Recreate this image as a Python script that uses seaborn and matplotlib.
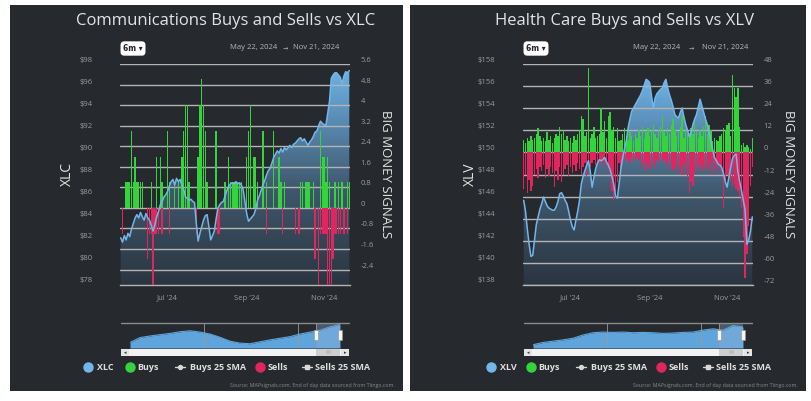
import numpy as np
import matplotlib
matplotlib.use("Agg")
import matplotlib.pyplot as plt
import seaborn as sns
from matplotlib.colors import LinearSegmentedColormap
from matplotlib.patches import Rectangle
from matplotlib.lines import Line2D

W, H = 812, 401

# ---------------- data ----------------
date_start = "May 22, 2024"
date_end = "Nov 21, 2024"
date_tick_idx = [26, 70, 113]            # trading-day index of Jul 1, Sep 3, Nov 1
date_tick_labels = ["Jul '24", "Sep '24", "Nov '24"]

xlc_price = [
    82.2, 81.8, 82.4, 82.0, 82.6, 82.3, 83.0, 83.5, 84.0, 84.3,
    84.0, 84.5, 84.1, 83.8, 84.4, 84.0, 83.8, 83.3, 82.8, 83.4,
    84.1, 84.6, 85.2, 85.5, 85.9, 86.1, 86.4, 86.9, 87.3, 87.5,
    87.0, 87.6, 87.3, 87.5, 87.0, 86.6, 85.9, 85.8, 85.6, 85.7,
    85.5, 85.4, 83.5, 81.9, 82.6, 83.2, 83.8, 84.2, 84.3, 83.2,
    82.0, 82.4, 82.8, 83.9, 84.9, 85.2, 85.4, 85.5, 86.0, 86.5,
    86.9, 87.1, 87.2, 87.1, 87.3, 87.1, 87.2, 87.0, 86.6, 85.5,
    84.4, 83.7, 83.9, 84.1, 84.3, 84.8, 85.6, 86.0, 86.5, 87.0,
    87.4, 87.9, 88.3, 88.5, 89.0, 89.5, 89.8, 90.1, 89.9, 90.3,
    90.0, 90.4, 90.2, 90.4, 90.6, 90.4, 90.7, 90.8, 91.0, 91.2,
    91.3, 91.0, 91.2, 90.9, 90.6, 90.9, 91.1, 91.4, 91.8, 91.9,
    92.4, 92.8, 92.6, 92.5, 92.4, 93.5, 94.6, 96.7, 97.0, 97.2,
    97.2, 97.0, 96.8, 96.2, 96.9, 97.3, 97.2, 97.4,
]
xlc_buys = [
    0, 0, 0, 1, 1, 1, 3, 1, 2, 1, 1, 1, 1, 0, 0, 0,
    0, 1, 0, 0, 2, 0, 2, 1, 0, 0, 3, 1, 0, 0, 1, 0,
    1, 0, 2, 3, 4, 4, 1, 0, 0, 0, 0, 2, 4, 5, 4, 3,
    1, 0, 0, 0, 0, 3, 0, 0, 0, 0, 1, 0, 2, 1, 1, 1,
    1, 1, 1, 1, 0, 0, 2, 3, 4, 0, 2, 2, 1, 0, 0, 3,
    0, 1, 0, 0, 0, 3, 0, 0, 2, 1, 0, 1, 0, 0, 0, 0,
    0, 0, 0, 0, 1, 1, 0, 1, 1, 1, 0, 1, 0, 0, 0, 3,
    2, 2, 1, 2, 1, 0, 0, 1, 0, 1, 0, 1, 0, 0, 1, 1,
]
xlc_sells = [
    0, -1, 0, 0, 0, 0, 0, 0, 0, 0, 0, 0, 0, 0, 0, -2,
    -1, -1, -3, -1, -1, -1, 0, -1, 0, 0, 0, -1, 0, 0, 0, 0,
    0, 0, 0, 0, 0, 0, 0, 0, 0, 0, -1, 0, 0, 0, 0, 0,
    0, 0, 0, 0, 0, 0, -1, -1, 0, 0, 0, 0, 0, 0, 0, 0,
    0, 0, 0, 0, 0, 0, 0, 0, 0, 0, 0, 0, 0, 0, 0, 0,
    0, -1, 0, 0, 0, 0, 0, 0, 0, 0, -1, 0, 0, 0, 0, 0,
    0, -1, 0, -1, 0, 0, 0, 0, 0, 0, 0, 0, -2, 0, -3, -1,
    -1, -1, -1, -3, -3, -3, -2, -1, -1, -1, -1, 0, -1, 0, -1, 0,
]

xlv_price = [
    145.6, 144.6, 143.0, 141.6, 140.5, 140.6, 142.0, 143.4, 144.1, 144.8,
    145.3, 145.9, 145.5, 145.1, 144.9, 144.8, 144.7, 144.7, 145.0, 145.5,
    146.2, 146.3, 146.0, 145.6, 145.3, 144.6, 143.8, 143.2, 142.9, 143.8,
    144.6, 145.6, 147.1, 147.8, 148.3, 148.8, 149.2, 148.2, 146.8, 147.7,
    148.5, 149.0, 149.3, 149.2, 149.3, 149.5, 149.1, 148.8, 148.4, 147.8,
    147.1, 146.0, 145.8, 147.1, 148.5, 149.5, 150.3, 151.0, 152.2, 153.0,
    153.7, 154.0, 154.3, 154.6, 154.9, 155.2, 155.6, 156.1, 156.6, 156.5,
    156.3, 155.1, 154.0, 154.9, 155.3, 155.5, 155.7, 155.8, 156.3, 156.6,
    155.8, 155.2, 154.7, 154.1, 153.4, 153.2, 153.1, 153.6, 154.0, 153.2,
    152.5, 152.0, 151.4, 151.8, 152.5, 153.0, 153.4, 154.1, 154.8, 154.2,
    153.6, 153.0, 152.5, 151.7, 151.0, 150.2, 149.5, 149.2, 148.9, 148.8,
    148.6, 148.0, 147.3, 146.8, 147.7, 148.6, 149.4, 149.7, 149.8, 148.2,
    147.3, 146.5, 145.6, 144.7, 141.6, 142.0, 142.8, 144.1,
]
xlv_buys = [
    7, 5, 8, 6, 9, 7, 8, 10, 13, 9, 6, 8, 6, 11, 7, 9,
    5, 8, 10, 9, 14, 10, 12, 7, 9, 6, 8, 5, 9, 7, 10, 12,
    20, 18, 9, 11, 46, 8, 10, 14, 8, 9, 10, 24, 11, 17, 8, 20,
    22, 12, 14, 8, 13, 6, 7, 10, 13, 9, 7, 11, 9, 6, 10, 8,
    12, 9, 14, 8, 11, 13, 9, 12, 15, 10, 8, 12, 14, 20, 11, 9,
    13, 10, 15, 18, 12, 9, 11, 14, 20, 8, 12, 10, 9, 13, 10, 17,
    11, 8, 12, 9, 14, 20, 10, 15, 12, 6, 8, 7, 6, 9, 10, 13,
    12, 15, 16, 9, 42, 35, 30, 35, 14, 4, 5, 3, 4, 3, 2, 8,
]
xlv_sells = [
    -20, -12, -22, -15, -21, -18, -12, -9, -14, -8, -10, -7, -14, -9, -13, -8,
    -11, -19, -10, -15, -8, -16, -12, -9, -7, -13, -8, -11, -7, -10, -6, -9,
    -12, -8, -6, -13, -5, -8, -6, -4, -7, -5, -7, -4, -6, -8, -6, -9,
    -11, -21, -26, -25, -16, -6, -9, -4, -5, -3, -4, -6, -3, -5, -4, -3,
    -4, -8, -7, -10, -6, -9, -7, -9, -5, -8, -4, -6, -3, -5, -4, -6,
    -9, -5, -8, -10, -9, -7, -11, -8, -12, -6, -9, -13, -22, -16, -18, -11,
    -9, -6, -8, -10, -7, -9, -8, -10, -6, -12, -9, -11, -7, -8, -10, -30,
    -15, -12, -14, -16, -18, -17, -20, -21, -24, -30, -46, -68, -55, -40, -18, -8,
]

# long-history navigator series (coarse readings)
xlc_nav = [48.5, 61.5, 65.8, 69.3, 72.7, 77.1, 79.7, 76.2, 71.0, 62.3, 51.9,
           46.7, 45.0, 50.2, 55.4, 59.7, 64.1, 71.0, 76.2, 81.4, 90.1, 97.0]
xlv_nav = [80.0, 89.0, 94.2, 99.3, 105.8, 118.7, 127.7, 130.3, 129.0, 130.3, 127.7,
           129.0, 127.7, 125.1, 126.4, 129.0, 130.3, 138.0, 143.2, 138.0, 156.0, 150.9]

xlc_price_ticks = [78, 80, 82, 84, 86, 88, 90, 92, 94, 96, 98]
xlc_signal_ticks = [-2.4, -1.6, -0.8, 0, 0.8, 1.6, 2.4, 3.2, 4.0, 4.8, 5.6]
xlc_signal_labels = ["-2.4", "-1.6", "-0.8", "0", "0.8", "1.6", "2.4", "3.2", "4", "4.8", "5.6"]
xlv_price_ticks = [138, 140, 142, 144, 146, 148, 150, 152, 154, 156, 158]
xlv_signal_ticks = [-72, -60, -48, -36, -24, -12, 0, 12, 24, 36, 48]
xlv_signal_labels = [str(v) for v in xlv_signal_ticks]

legend_labels = ["Buys", "Buys 25 SMA", "Sells", "Sells 25 SMA"]
source_note = "Source: MAPsignals.com. End of day data sourced from Tiingo.com."

# ---------------- styling ----------------
BG = "#26292d"
PRICE_BLUE = "#74b6ea"
NAV_BLUE = "#5fa4da"
BUY_GREEN = "#35d43c"
SELL_PINK = "#e1265f"
GRID = "#b4b4b4"
TEXT = "#e4e4e4"
MUTED = "#9c9c9c"
AREA_CMAP = LinearSegmentedColormap.from_list(
    "area", [(0.0, "#2b3540"), (0.45, "#3f586d"), (1.0, "#6db2e6")])


def px_rect(x0, y0, x1, y1):
    return [x0 / W, 1 - y1 / H, (x1 - x0) / W, (y1 - y0) / H]


def ftext(fig, x, y, s, **kw):
    return fig.text(x / W, 1 - y / H, s, **kw)


def fline(fig, xs, ys, **kw):
    fig.add_artist(Line2D([x / W for x in xs], [1 - y / H for y in ys],
                          transform=fig.transFigure, **kw))


def frect(fig, x0, y0, x1, y1, **kw):
    fig.add_artist(Rectangle((x0 / W, 1 - y1 / H), (x1 - x0) / W, (y1 - y0) / H,
                             transform=fig.transFigure, **kw))


def draw_panel(fig, ox, card, title, title_x, ticker, price, buys, sells, nav,
               price_ticks, sig_ticks, sig_labels, sig_ylim, nav_ylim, dates_x,
               leg_dx, bar_w):
    frect(fig, card[0], 5, card[1], 391, facecolor=BG, edgecolor="none", zorder=-5)

    n = len(price)
    idx = np.arange(n)
    x_lo, x_hi = -0.4, n - 0.6
    p_lo = price_ticks[0] - (price_ticks[1] - price_ticks[0]) * 0.05
    p_hi = price_ticks[-1]
    rect = px_rect(120 + ox, 64, 350 + ox, 285)

    # price area with vertical gradient
    ax = fig.add_axes(rect)
    ax.set_facecolor("none")
    poly = ax.fill_between(idx, price, p_lo, facecolor="none", edgecolor="none")
    grad = np.linspace(0, 1, 256).reshape(-1, 1)
    im = ax.imshow(grad, extent=[x_lo, x_hi, p_lo, max(price)], origin="lower",
                   aspect="auto", cmap=AREA_CMAP, zorder=0.5)
    im.set_clip_path(poly.get_paths()[0], transform=ax.transData)
    ax.set_ylim(p_lo, p_hi)
    ax.set_yticks(price_ticks, [f"${v}" for v in price_ticks])
    ax.tick_params(axis="y", length=0, pad=20, labelsize=5.5, labelcolor=MUTED)
    for s in ["top", "left", "right"]:
        ax.spines[s].set_visible(False)
    ax.spines["bottom"].set_color(GRID)
    ax.spines["bottom"].set_linewidth(1.0)

    # buy / sell bars on the signal scale
    ax2 = ax.twinx()
    ax2.set_axisbelow(True)
    ax2.grid(axis="y", color=GRID, linewidth=1.0)
    sns.barplot(x=idx, y=buys, native_scale=True, color=BUY_GREEN, saturation=1,
                width=bar_w, linewidth=0, errorbar=None, ax=ax2)
    sns.barplot(x=idx, y=sells, native_scale=True, color=SELL_PINK, saturation=1,
                width=bar_w, linewidth=0, errorbar=None, ax=ax2)
    ax2.set_ylim(*sig_ylim)
    ax2.set_yticks(sig_ticks, sig_labels)
    ax2.set_ylabel("")
    ax2.tick_params(axis="y", length=0, pad=7.5, labelsize=5.5, labelcolor=MUTED)
    for s in ax2.spines.values():
        s.set_visible(False)

    # price line on top
    ax3 = fig.add_axes(rect, sharex=ax)
    sns.lineplot(x=idx, y=price, color=PRICE_BLUE, linewidth=1.1, ax=ax3)
    ax3.set_ylim(p_lo, p_hi)
    ax3.axis("off")

    ax.set_xlim(x_lo, x_hi)
    ax.set_xticks(date_tick_idx, date_tick_labels)
    ax.tick_params(axis="x", length=5, width=0.8, color=GRID, pad=2,
                   labelsize=5.5, labelcolor=MUTED)
    ax.set_xlabel("")
    ax.set_ylabel("")
    plt.setp(ax.get_yticklabels(), va="bottom")
    plt.setp(ax2.get_yticklabels(), va="bottom")

    # titles and header controls
    ftext(fig, title_x, 21, title, ha="center", va="center", fontsize=12, color=TEXT)
    ftext(fig, 133 + ox, 48.5, "6m \u25be", ha="center", va="center", fontsize=5.5,
          fontweight="bold", color="#222222", family=["DejaVu Sans"],
          bbox=dict(boxstyle="round,pad=0.35,rounding_size=0.5", fc="white", ec="none"))
    ftext(fig, dates_x[0], 47.5, date_start, ha="left", va="center", fontsize=5.5, color="#b8b8b8")
    ftext(fig, dates_x[1], 47.5, "\u2192", ha="center", va="center", fontsize=4.5,
          color="#b8b8b8", family=["DejaVu Sans"])
    ftext(fig, dates_x[2], 47.5, date_end, ha="left", va="center", fontsize=5.5, color="#b8b8b8")
    ftext(fig, 67 + ox, 174, ticker, ha="center", va="center", rotation=90,
          fontsize=10, color=TEXT)
    ftext(fig, 386 + ox, 174, "BIG MONEY SIGNALS", ha="center", va="center",
          rotation=270, fontsize=9.5, color=TEXT)

    # navigator
    fline(fig, [121 + ox, 349 + ox], [323, 323], color="#8c8c8c", linewidth=1.0)
    axn = fig.add_axes(px_rect(130 + ox, 323, 340 + ox, 348))
    nx = np.arange(len(nav))
    axn.fill_between(nx, nav, nav_ylim[0], color=NAV_BLUE, linewidth=0)
    sns.lineplot(x=nx, y=nav, color=NAV_BLUE, linewidth=0.8, ax=axn)
    axn.axvspan(18.6, nx[-1], color="#8fb0d8", alpha=0.35, linewidth=0)
    for vx in [7.4, 16.8, 18.6]:
        axn.axvline(vx, color="#9a9a9a", linewidth=0.6)
    axn.set_xlim(0, nx[-1])
    axn.set_ylim(*nav_ylim)
    axn.axis("off")
    for hx in [316 + ox, 340 + ox]:
        frect(fig, hx - 2, 330, hx + 2, 340, facecolor="#f4f4f4", edgecolor="#999999",
              linewidth=0.5, zorder=4)

    # scrollbar
    frect(fig, 121 + ox, 349, 349 + ox, 356, facecolor="#f2f2f2", edgecolor="none", zorder=3)
    frect(fig, 316 + ox, 349, 340 + ox, 356, facecolor="#cfcfcf", edgecolor="none", zorder=3)
    frect(fig, 121 + ox, 349, 129 + ox, 356, facecolor="#e4e4e4", edgecolor="none", zorder=3)
    frect(fig, 341 + ox, 349, 349 + ox, 356, facecolor="#e4e4e4", edgecolor="none", zorder=3)
    ftext(fig, 125 + ox, 352.5, "\u25c2", ha="center", va="center", fontsize=3.5,
          color="#333333", family=["DejaVu Sans"], zorder=4)
    ftext(fig, 345 + ox, 352.5, "\u25b8", ha="center", va="center", fontsize=3.5,
          color="#333333", family=["DejaVu Sans"], zorder=4)
    ftext(fig, 328 + ox, 352.5, "|||", ha="center", va="center", fontsize=2.5,
          color="#666666", zorder=4)

    # legend row
    ly = 367
    dots = [(88, PRICE_BLUE, ticker, 97), (130 + leg_dx, BUY_GREEN, legend_labels[0], 137 + leg_dx),
            (260 + leg_dx, SELL_PINK, legend_labels[2], 268 + leg_dx)]
    for dx, col, lab, tx in dots:
        fline(fig, [dx + ox], [ly], marker="o", markersize=6.5, color=col, linestyle="none")
        ftext(fig, tx + ox, ly, lab, ha="left", va="center", fontsize=6.5,
              fontweight="bold", color="#dedede")
    for (x0, x1), mk, lab, tx in [((175 + leg_dx, 185 + leg_dx), "o", legend_labels[1], 190 + leg_dx),
                                   ((302 + leg_dx, 312 + leg_dx), "s", legend_labels[3], 315 + leg_dx)]:
        fline(fig, [x0 + ox, x1 + ox], [ly, ly], color="#d8d8d8", linewidth=1.0)
        fline(fig, [(x0 + x1) / 2 + ox], [ly], marker=mk, markersize=2.8,
              color="#d8d8d8", linestyle="none")
        ftext(fig, tx + ox, ly, lab, ha="left", va="center", fontsize=6.5,
              fontweight="bold", color="#dedede")
    ftext(fig, card[1] - 8, 385, source_note, ha="right", va="center", fontsize=3.8, color="#8a8a8a")


def main():
    sns.set_theme(style="white")
    plt.rcParams["font.family"] = ["Open Sans", "DejaVu Sans"]
    fig = plt.figure(figsize=(W / 100, H / 100), dpi=100, facecolor="white")

    draw_panel(fig, 0, (10, 403), "Communications Buys and Sells vs XLC", 226, "XLC",
               xlc_price, xlc_buys, xlc_sells, xlc_nav,
               xlc_price_ticks, xlc_signal_ticks, xlc_signal_labels, (-3.0, 5.6),
               (33.7, 100.5), (230, 285, 293), 0, 0.75)
    draw_panel(fig, 403, (410, 806), "Health Care Buys and Sells vs XLV", 625, "XLV",
               xlv_price, xlv_buys, xlv_sells, xlv_nav,
               xlv_price_ticks, xlv_signal_ticks, xlv_signal_labels, (-72, 48),
               (67.1, 166.3), (633, 691, 702), -2, 0.85)

    fig.savefig("out.png", dpi=100, facecolor="white")
    plt.close(fig)


if __name__ == "__main__":
    main()
